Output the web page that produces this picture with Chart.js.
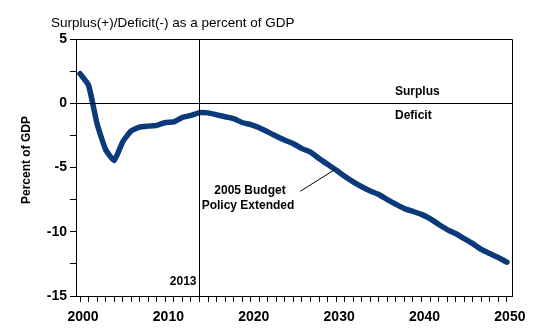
<!DOCTYPE html>
<html>
<head>
<meta charset="utf-8">
<script src="https://cdn.jsdelivr.net/npm/chart.js@4.4.0/dist/chart.umd.min.js"></script>
<style>
  html, body { margin: 0; padding: 0; background: #fff; }
  #wrap { width: 540px; height: 336px; }
</style>
</head>
<body>
<div id="wrap"><canvas id="myChart" width="540" height="336"></canvas></div>
<script>
// years 2000..2050
var years = [];
for (var yr = 2000; yr <= 2050; yr++) years.push(yr);

// surplus(+)/deficit(-) as % of GDP
var balance = [
  2.3, 1.4, -1.6, -3.6, -4.45, -3.0, -2.15, -1.85, -1.78, -1.72,
  -1.5, -1.45, -1.1, -0.95, -0.73, -0.75, -0.9, -1.05, -1.2, -1.5,
  -1.66, -1.9, -2.23, -2.57, -2.88, -3.15, -3.53, -3.8, -4.3, -4.75,
  -5.2, -5.68, -6.12, -6.5, -6.82, -7.1, -7.5, -7.86, -8.2, -8.42,
  -8.65, -8.98, -9.42, -9.83, -10.14, -10.53, -10.92, -11.38, -11.7, -12.0,
  -12.37
];

var yTicks = [-15, -12.5, -10, -7.5, -5, -2.5, 0, 2.5, 5];
var yLabels = [-15, -10, -5, 0, 5];
var xLabels = [2000, 2010, 2020, 2030, 2040, 2050];
var markerYear = 2013.9;   // the vertical line labelled 2013

var FONT = "Arial, 'Liberation Sans', sans-serif";

const overlay = {
  id: 'overlay',
  afterDatasetsDraw(chart) {
    const ctx = chart.ctx, a = chart.chartArea;
    const xs = chart.scales.x, ys = chart.scales.y;
    ctx.save();
    ctx.strokeStyle = '#000';
    ctx.lineWidth = 1;
    // zero line
    var y0 = Math.round(ys.getPixelForValue(0)) + 0.5;
    ctx.beginPath(); ctx.moveTo(a.left, y0); ctx.lineTo(a.right, y0); ctx.stroke();
    // 2013 line
    var xm = Math.round(xs.getPixelForValue(markerYear)) + 0.5;
    ctx.beginPath(); ctx.moveTo(xm, a.top); ctx.lineTo(xm, a.bottom); ctx.stroke();
    // box top and right
    ctx.beginPath();
    ctx.moveTo(a.left, Math.round(a.top) + 0.5);
    ctx.lineTo(Math.round(a.right) + 0.5, Math.round(a.top) + 0.5);
    ctx.lineTo(Math.round(a.right) + 0.5, a.bottom);
    ctx.stroke();
    // leader line
    ctx.beginPath();
    ctx.moveTo(xs.getPixelForValue(2025.8), ys.getPixelForValue(-6.85));
    ctx.lineTo(xs.getPixelForValue(2029.9), ys.getPixelForValue(-5.14));
    ctx.stroke();

    ctx.fillStyle = '#000';
    ctx.textBaseline = 'middle';
    ctx.font = 'bold 12px ' + FONT;
    ctx.textAlign = 'left';
    ctx.fillText('Surplus', 395, 92);
    ctx.fillText('Deficit', 395, 116);
    ctx.textAlign = 'center';
    ctx.fillText('2005 Budget', 250, 191);
    ctx.fillText('Policy Extended', 248, 206);
    ctx.textAlign = 'right';
    ctx.fillText('2013', xm - 3, 282);

    // title
    ctx.font = '13.5px ' + FONT;
    ctx.textAlign = 'left';
    ctx.fillText('Surplus(+)/Deficit(-) as a percent of GDP', 51, 23);

    // y axis title
    ctx.translate(27, 160);
    ctx.rotate(-Math.PI / 2);
    ctx.font = 'bold 12px ' + FONT;
    ctx.textAlign = 'center';
    ctx.fillText('Percent of GDP', 0, 0);
    ctx.restore();
  }
};

new Chart(document.getElementById('myChart'), {
  type: 'line',
  data: {
    datasets: [{
      data: years.map(function (y, i) { return { x: y, y: balance[i] }; }),
      borderColor: '#0a3a7a',
      borderWidth: 5.5,
      borderCapStyle: 'round',
      borderJoinStyle: 'round',
      pointRadius: 0,
      tension: 0.15,
      fill: false
    }]
  },
  options: {
    responsive: false,
    animation: false,
    devicePixelRatio: 1,
    layout: { padding: { top: 39, right: 28, left: 0, bottom: 0 } },
    plugins: { legend: { display: false }, tooltip: { enabled: false } },
    scales: {
      x: {
        type: 'linear',
        min: 1999.53,
        max: 2050.6,
        afterFit: function (s) { s.height = 40; },
        afterBuildTicks: function (s) { s.ticks = years.map(function (v) { return { value: v }; }); },
        grid: { drawOnChartArea: false, tickLength: 6, color: '#000' },
        border: { display: true, color: '#000', width: 1 },
        ticks: {
          autoSkip: false,
          maxRotation: 0,
          padding: 7,
          labelOffset: 3,
          color: '#000',
          font: { family: FONT, size: 14, weight: 'bold' },
          callback: function (v) { return xLabels.indexOf(v) >= 0 ? String(v) : ''; }
        }
      },
      y: {
        min: -15,
        max: 5,
        afterFit: function (s) { s.width = 76; },
        afterBuildTicks: function (s) { s.ticks = yTicks.map(function (v) { return { value: v }; }); },
        grid: { drawOnChartArea: false, tickLength: 6, color: '#000' },
        border: { display: true, color: '#000', width: 1 },
        ticks: {
          padding: 3,
          color: '#000',
          font: { family: FONT, size: 14, weight: 'bold' },
          callback: function (v) { return yLabels.indexOf(v) >= 0 ? String(v) : ''; }
        }
      }
    }
  },
  plugins: [overlay]
});
</script>
</body>
</html>
